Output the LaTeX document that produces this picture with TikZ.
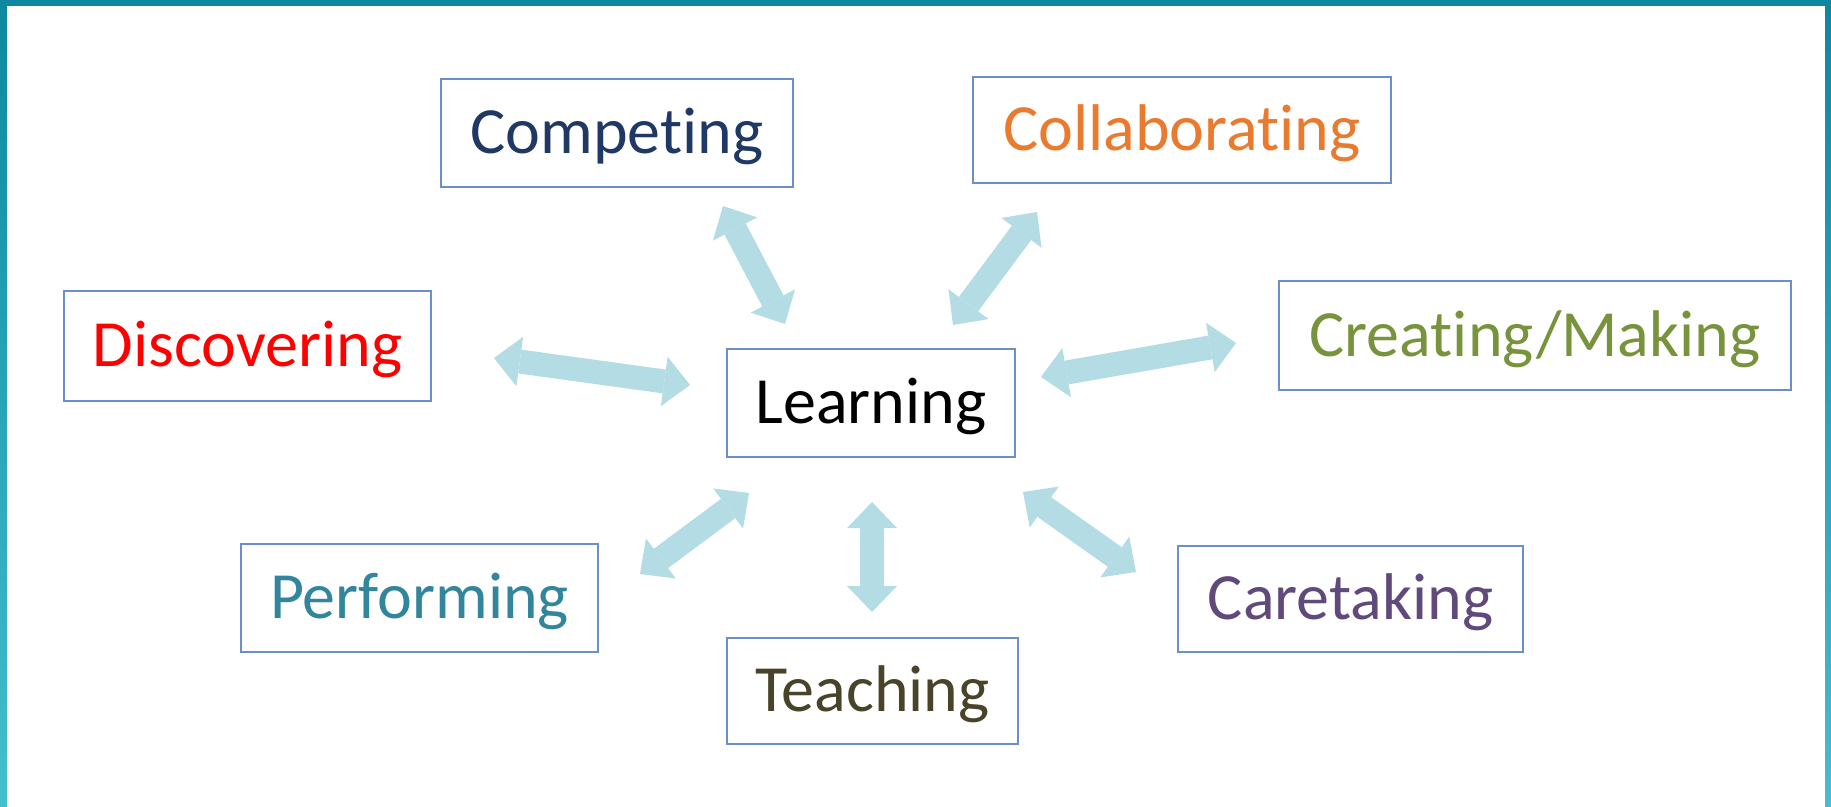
\documentclass[tikz,border=0pt]{standalone}
\usepackage{fontspec}
\setmainfont{Carlito}[Ligatures=NoCommon]
\usetikzlibrary{arrows.meta}
\definecolor{bandtop}{HTML}{0E88A0}
\definecolor{bandbot}{HTML}{45BFCD}
\definecolor{boxblue}{HTML}{6A8FCC}
\definecolor{arrowblue}{HTML}{B3DCE5}
\definecolor{cCompete}{HTML}{1F3864}
\definecolor{cCollab}{HTML}{E97A2E}
\definecolor{cDisc}{HTML}{FF0000}
\definecolor{cCreate}{HTML}{77933C}
\definecolor{cPerf}{HTML}{31859C}
\definecolor{cCare}{HTML}{604A7B}
\definecolor{cTeach}{HTML}{494429}
\tikzset{
  box/.style={draw=boxblue, line width=1.3pt, fill=white,
    font=\fontsize{33}{40}\selectfont, text height=20.8pt, text depth=0pt,
    inner sep=0pt, anchor=center},
  link/.style={draw=arrowblue, line width=12pt,
    {Triangle[length=13pt,width=25pt,line width=0pt]}-{Triangle[length=13pt,width=25pt,line width=0pt]}}
}
\begin{document}
\begin{tikzpicture}[x=0.5pt,y=-0.5pt]
\useasboundingbox (0,0) rectangle (1831,807);
\fill[white] (0,0) rectangle (1831,807);
\shade[top color=bandtop, bottom color=bandbot] (0,0) rectangle (7,807);
\shade[top color=bandtop, bottom color=bandbot] (1825,0) rectangle (1831,807);
\fill[bandtop] (0,0) rectangle (1831,6);

\node[box, minimum width=176pt, minimum height=54pt, text=cCompete] (comp) at (617,133) {Competing};
\node[box, minimum width=209pt, minimum height=53pt, text=cCollab] (collab) at (1182,130) {Collaborating};
\node[box, minimum width=183.5pt, minimum height=55pt, text=cDisc] (disc) at (247.5,346) {Discovering};
\node[box, minimum width=144pt, minimum height=54pt, text=black] (learn) at (871,403) {Learning};
\node[box, minimum width=256pt, minimum height=54.5pt, text=cCreate] (create) at (1535,335.5) {Creating/Making};
\node[box, minimum width=178.5pt, minimum height=54pt, text=cPerf] (perf) at (419.5,598) {Performing};
\node[box, minimum width=145.5pt, minimum height=53pt, text=cTeach] (teach) at (872.5,691) {Teaching};
\node[box, minimum width=172.5pt, minimum height=53pt, text=cCare] (care) at (1350.5,599) {Caretaking};

\coordinate (compA) at (723,206);  \coordinate (compB) at (785,324);
\coordinate (collabA) at (1037,212); \coordinate (collabB) at (953,325);
\coordinate (discA) at (494,358);  \coordinate (discB) at (690,385);
\coordinate (createA) at (1041,377); \coordinate (createB) at (1236,343);
\coordinate (perfA) at (749,493);  \coordinate (perfB) at (640,574);
\coordinate (teachA) at (872,502); \coordinate (teachB) at (872,612);
\coordinate (careA) at (1023,492); \coordinate (careB) at (1136,572);

\draw[link] (compA) -- (compB);
\draw[link] (collabA) -- (collabB);
\draw[link] (discA) -- (discB);
\draw[link] (createA) -- (createB);
\draw[link] (perfA) -- (perfB);
\draw[link] (teachA) -- (teachB);
\draw[link] (careA) -- (careB);
\end{tikzpicture}
\end{document}
